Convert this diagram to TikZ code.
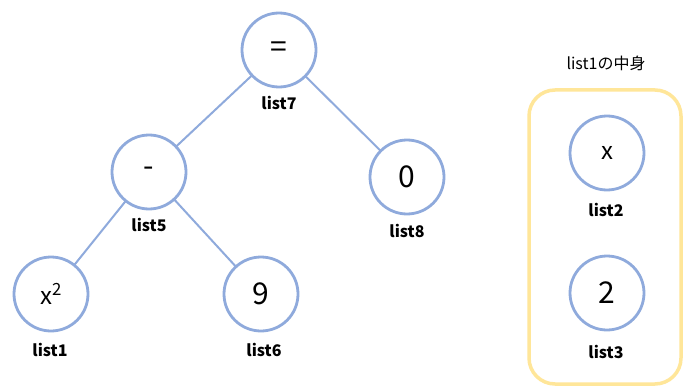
\documentclass[tikz,border=0pt]{standalone}
\usepackage{fontspec}
\setmainfont{Noto Sans CJK JP}
\begin{document}
\begin{tikzpicture}[x=1pt,y=-1pt,
  nd/.style={circle,draw=cblue,line width=2.8pt,minimum size=74pt,inner sep=0pt,fill=white,font=\fontsize{30}{34}\selectfont},
  lbl/.style={font=\fontsize{16}{18}\selectfont\bfseries},
  edge/.style={draw=cblue,line width=2pt}]
\definecolor{cblue}{HTML}{8FAADC}
\definecolor{cyel}{HTML}{FFE699}
\clip (0,0) rectangle (687,385);
\useasboundingbox (0,0) rectangle (687,385);
\fill[white] (0,0) rectangle (687,385);
% yellow container
\draw[cyel,line width=3.5pt,rounded corners=26pt] (529,90) rectangle (681,384);
\node[font=\fontsize{16}{18}\selectfont] (title) at (606,63) {list1の中身};
% edges first
\coordinate (c7) at (279,50);
\coordinate (c5) at (149,172);
\coordinate (c8) at (407,177);
\coordinate (c1) at (51,294);
\coordinate (c6) at (261,294);
\draw[edge] (c7) -- (c5);
\draw[edge] (c7) -- (c8);
\draw[edge] (c5) -- (c1);
\draw[edge] (c5) -- (c6);
% nodes
\node[nd] (n7) at (c7) {=};
\node[nd] (n5) at (c5) {-};
\node[nd] (n8) at (c8) {0};
\node[nd,font=\fontsize{24}{28}\selectfont] (n1) at (c1) {x\textsuperscript{2}};
\node[nd] (n6) at (c6) {9};
\node[nd,font=\fontsize{24}{28}\selectfont] (n2) at (607,153) {x};
\node[nd] (n3) at (607,293) {2};
% labels
\node[lbl] (l7) at (279,103) {list7};
\node[lbl] (l5) at (149,225) {list5};
\node[lbl] (l8) at (407,231) {list8};
\node[lbl] (l1) at (50,350) {list1};
\node[lbl] (l6) at (264,350) {list6};
\node[lbl] (l2) at (606,210) {list2};
\node[lbl] (l3) at (606,352) {list3};
\end{tikzpicture}
\end{document}
